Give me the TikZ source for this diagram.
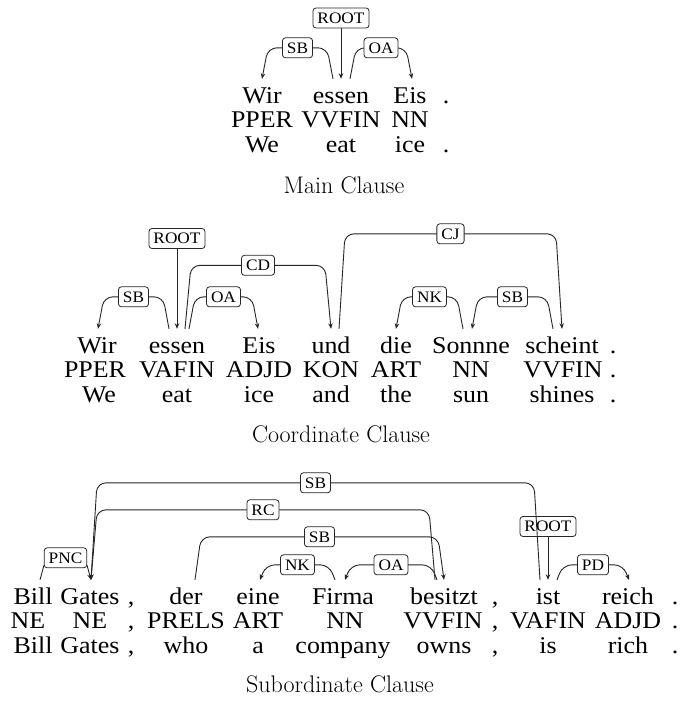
\documentclass[tikz,border=0pt]{standalone}
\usepackage{fontspec}
\newfontfamily\wordfont[FakeStretch=1.08]{Liberation Serif}
\usetikzlibrary{arrows.meta,calc}
\tikzset{
  word/.style={anchor=base, inner sep=0pt, text height=24pt, text depth=6pt,
    font=\wordfont\fontsize{24}{28}\selectfont},
  caption/.style={anchor=base, inner sep=0pt, font=\fontsize{24}{28}\selectfont},
  depline/.style={draw=black!85, line width=0.9pt, rounded corners=9pt,
    -{Stealth[length=5.5pt,width=4.5pt]}},
  lab/.style={draw=black!85, line width=0.8pt, fill=white, rounded corners=3pt,
    inner xsep=4.5pt, inner ysep=0pt, text height=11.5pt, text depth=1pt, minimum height=20pt,
    font=\wordfont\fontsize{16}{18}\selectfont},
  rootlab/.style={lab, fill=none}
}
% #1 label name, #2 source word, #3 source dx, #4 target word, #5 target dx,
% #6 rise, #7 direction (+1 right / -1 left), #8 label text
\newcommand{\depedge}[8]{%
  \draw[depline] ($(#2.north)+(#3,0)$) -- ++({#7*6},{-#6})
    -- ($(#4.north)+({#5-#7*6},{-#6})$) node[lab,pos=0.5] (#1) {#8}
    -- ($(#4.north)+(#5,0)$);}
\begin{document}
\begin{tikzpicture}[x=1pt,y=-1pt]
\useasboundingbox (0,0) rectangle (680,702);
\fill[white] (0,0) rectangle (680,702);

% ---------------- Main Clause ----------------
\node[word] (m1) at (262,103) {Wir};
\node[word] (m2) at (341,103) {essen};
\node[word] (m3) at (410,103) {Eis};
\node[word] (m4) at (446,103) {.};
\node[word] (mp1) at (262,127) {PPER};
\node[word] (mp2) at (341,127) {VVFIN};
\node[word] (mp3) at (410,127) {NN};
\node[word] (mt1) at (262,152) {We};
\node[word] (mt2) at (341,152) {eat};
\node[word] (mt3) at (410,152) {ice};
\node[word] (mt4) at (446,152) {.};
\node[rootlab] (mroot) at (341,18) {ROOT};
\draw[depline] (mroot.south) -- (mroot.south |- m2.north);
\depedge{msb}{m2}{-8}{m1}{0}{31}{-1}{SB}
\depedge{moa}{m2}{9}{m3}{2}{31}{1}{OA}
\node[caption] (mcap) at (344,193) {Main Clause};

% ---------------- Coordinate Clause ----------------
\node[word] (c1) at (97,353) {Wir};
\node[word] (c2) at (177,353) {essen};
\node[word] (c3) at (259,353) {Eis};
\node[word] (c4) at (331,353) {und};
\node[word] (c5) at (396,353) {die};
\node[word] (c6) at (471,353) {Sonnne};
\node[word] (c7) at (562,353) {scheint};
\node[word] (c8) at (613,353) {.};
\node[word] (cp1) at (95,377) {PPER};
\node[word] (cp2) at (177,377) {VAFIN};
\node[word] (cp3) at (259,377) {ADJD};
\node[word] (cp4) at (331,377) {KON};
\node[word] (cp5) at (396,377) {ART};
\node[word] (cp6) at (471,377) {NN};
\node[word] (cp7) at (563,377) {VVFIN};
\node[word] (cp8) at (613,377) {.};
\node[word] (ct1) at (99,402) {We};
\node[word] (ct2) at (177,402) {eat};
\node[word] (ct3) at (259,402) {ice};
\node[word] (ct4) at (331,402) {and};
\node[word] (ct5) at (396,402) {the};
\node[word] (ct6) at (471,402) {sun};
\node[word] (ct7) at (562,402) {shines};
\node[word] (ct8) at (613,402) {.};
\node[rootlab] (croot) at (177,238.5) {ROOT};
\draw[depline] (croot.south) -- (croot.south |- c2.north);
\depedge{csb}{c2}{-8}{c1}{1}{32}{-1}{SB}
\depedge{coa}{c2}{12}{c3}{-1}{32}{1}{OA}
\depedge{ccd}{c2}{8}{c4}{0}{63.5}{1}{CD}
\depedge{ccj}{c4}{8}{c7}{0}{95}{1}{CJ}
\depedge{cnk}{c6}{-8}{c5}{0}{32}{-1}{NK}
\depedge{csb2}{c7}{-9}{c6}{1}{32}{-1}{SB}
\node[caption] (ccap) at (341,442) {Coordinate Clause};

% ---------------- Subordinate Clause ----------------
\node[word] (s1) at (33,604) {Bill};
\node[word] (s2) at (90,604) {Gates};
\node[word] (s3) at (131,604) {,};
\node[word] (s4) at (186,604) {der};
\node[word] (s5) at (258,604) {eine};
\node[word] (s6) at (343,604) {Firma};
\node[word] (s7) at (444,604) {besitzt};
\node[word] (s8) at (495,604) {,};
\node[word] (s9) at (548,604) {ist};
\node[word] (s10) at (628,604) {reich};
\node[word] (s11) at (675,604) {.};
\node[word] (sp1) at (28,628) {NE};
\node[word] (sp2) at (90,628) {NE};
\node[word] (sp3) at (131,628) {,};
\node[word] (sp4) at (186,628) {PRELS};
\node[word] (sp5) at (258,628) {ART};
\node[word] (sp6) at (345,628) {NN};
\node[word] (sp7) at (443,628) {VVFIN};
\node[word] (sp8) at (495,628) {,};
\node[word] (sp9) at (548,628) {VAFIN};
\node[word] (sp10) at (628,628) {ADJD};
\node[word] (sp11) at (675,628) {.};
\node[word] (st1) at (33,653) {Bill};
\node[word] (st2) at (90,653) {Gates};
\node[word] (st3) at (131,653) {,};
\node[word] (st4) at (186,653) {who};
\node[word] (st5) at (258,653) {a};
\node[word] (st6) at (343,653) {company};
\node[word] (st7) at (444,653) {owns};
\node[word] (st8) at (495,653) {,};
\node[word] (st9) at (548,653) {is};
\node[word] (st10) at (628,653) {rich};
\node[word] (st11) at (675,653) {.};
\depedge{ssb}{s9}{-8}{s2}{1}{97}{-1}{SB}
\depedge{src}{s7}{-9}{s2}{1}{70}{-1}{RC}
\depedge{ssb2}{s4}{9}{s7}{0}{43}{1}{SB}
\depedge{snk}{s6}{-8}{s5}{2}{15}{-1}{NK}
\depedge{soa}{s7}{-7}{s6}{2}{15}{-1}{OA}
\depedge{spnc}{s1}{7}{s2}{1}{22}{1}{PNC}
\depedge{spd}{s9}{9}{s10}{1}{15}{1}{PD}
\node[rootlab] (sroot) at (548,526.5) {ROOT};
\draw[depline] (sroot.south) -- (sroot.south |- s9.north);
\node[caption] (scap) at (340,692) {Subordinate Clause};
\end{tikzpicture}
\end{document}
